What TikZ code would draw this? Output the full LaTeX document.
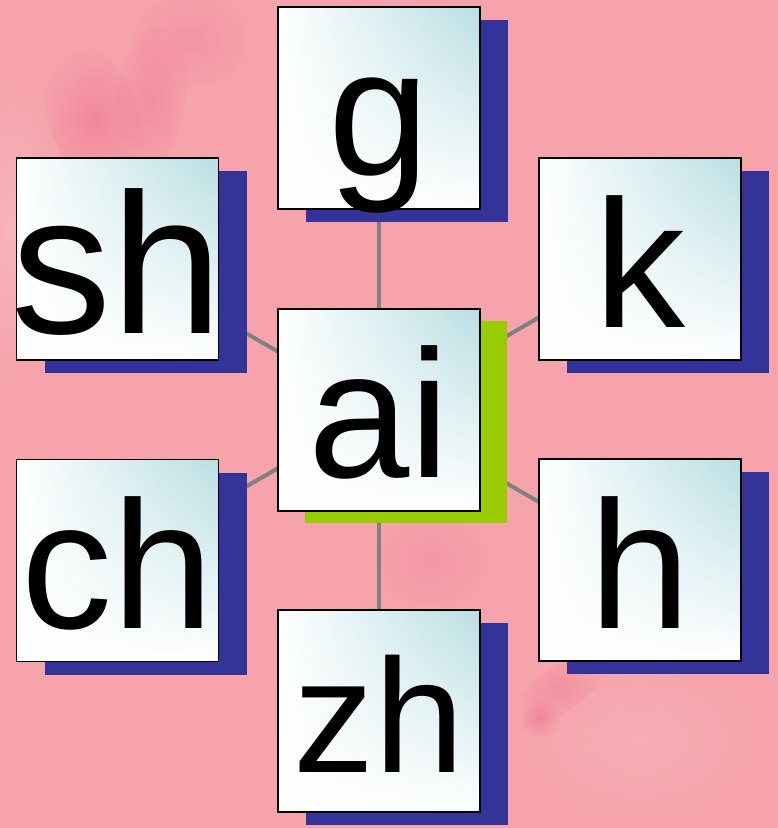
\documentclass[tikz,border=0pt]{standalone}
\usepackage{fontspec}
\setmainfont{Liberation Sans}
\usetikzlibrary{fadings}
\definecolor{bgpink}{RGB}{246,163,171}
\definecolor{petal}{RGB}{236,104,138}
\definecolor{shadowblue}{RGB}{51,51,153}
\definecolor{shadowgreen}{RGB}{153,204,0}
\definecolor{cardteal}{RGB}{186,223,227}
\definecolor{linkgray}{RGB}{128,128,128}
\tikzfading[name=fadedown, top color=transparent!100, middle color=transparent!75, bottom color=transparent!0]
\tikzfading[name=softdot, inner color=transparent!0, outer color=transparent!100]
\pgfdeclarelayer{back}
\pgfdeclarelayer{lines}
\pgfdeclarelayer{shadows}
\pgfsetlayers{back,lines,shadows,main}
\tikzset{
  card/.style={draw=black, line width=1.5pt, minimum width=202pt, minimum height=202pt,
    inner sep=0pt, outer sep=0pt, left color=white, right color=cardteal,
    path picture={\fill[white, path fading=fadedown] (path picture bounding box.south west) rectangle (path picture bounding box.north east);}},
  letter/.style={anchor=base, inner sep=0pt, text=black, font=\fontsize{182}{182}\selectfont},
  link/.style={draw=linkgray, line width=4pt},
  blob/.style={fill=petal, path fading=softdot},
}
\begin{document}
\begin{tikzpicture}[x=1pt, y=-1pt]
\useasboundingbox (0,0) rectangle (778,828);
\begin{pgfonlayer}{back}
  \fill[bgpink] (0,0) rectangle (778,828);
  % soft flower hints
  \fill[white, opacity=0.2, path fading=softdot] (10,230) ellipse [x radius=60, y radius=150];
  \fill[blob, opacity=0.45] (95,120) ellipse [x radius=45, y radius=80, rotate=20];
  \fill[blob, opacity=0.35] (150,100) ellipse [x radius=35, y radius=75, rotate=-10];
  \fill[blob, opacity=0.25] (190,40) ellipse [x radius=60, y radius=50];
  \fill[blob, opacity=0.2] (430,560) ellipse [x radius=60, y radius=50];
  \fill[blob, opacity=0.5] (540,718) ellipse [x radius=20, y radius=20];
  \fill[blob, opacity=0.3] (560,690) ellipse [x radius=45, y radius=22, rotate=30];
  \fill[white, opacity=0.12, path fading=softdot] (640,740) ellipse [x radius=120, y radius=80];
\end{pgfonlayer}

\node[card] (ai) at (379,410) {};
\node[card] (g)  at (379,108) {};
\node[card] (k)  at (640,259) {};
\node[card] (h)  at (640,560) {};
\node[card] (zh) at (379,711) {};
\node[card] (ch) at (117.5,560.5) {};
\node[card] (sh) at (117.5,259) {};

\node[letter] (aiT) at (379,477) {ai};
\node[letter] (gT)  at (379,175) {g};
\node[letter] (kT)  at (640,327) {k};
\node[letter] (hT)  at (640,628) {h};
\node[letter, font=\fontsize{162}{162}\selectfont] (zhT) at (379,772) {zh};
\node[letter] (chT) at (117.5,628) {ch};
\node[letter, font=\fontsize{200}{200}\selectfont] (shT) at (117.5,333) {sh};

\begin{pgfonlayer}{lines}
  \foreach \n in {g,k,h,zh,ch,sh}{\draw[link] (ai) -- (\n);}
\end{pgfonlayer}

\begin{pgfonlayer}{shadows}
  \fill[shadowgreen] ([shift={(27,12)}]ai.south west) rectangle ([shift={(27,12)}]ai.north east);
  \foreach \n in {g,k,h,zh,ch,sh}{
    \fill[shadowblue] ([shift={(28,13)}]\n.south west) rectangle ([shift={(28,13)}]\n.north east);
  }
\end{pgfonlayer}
\end{tikzpicture}
\end{document}
